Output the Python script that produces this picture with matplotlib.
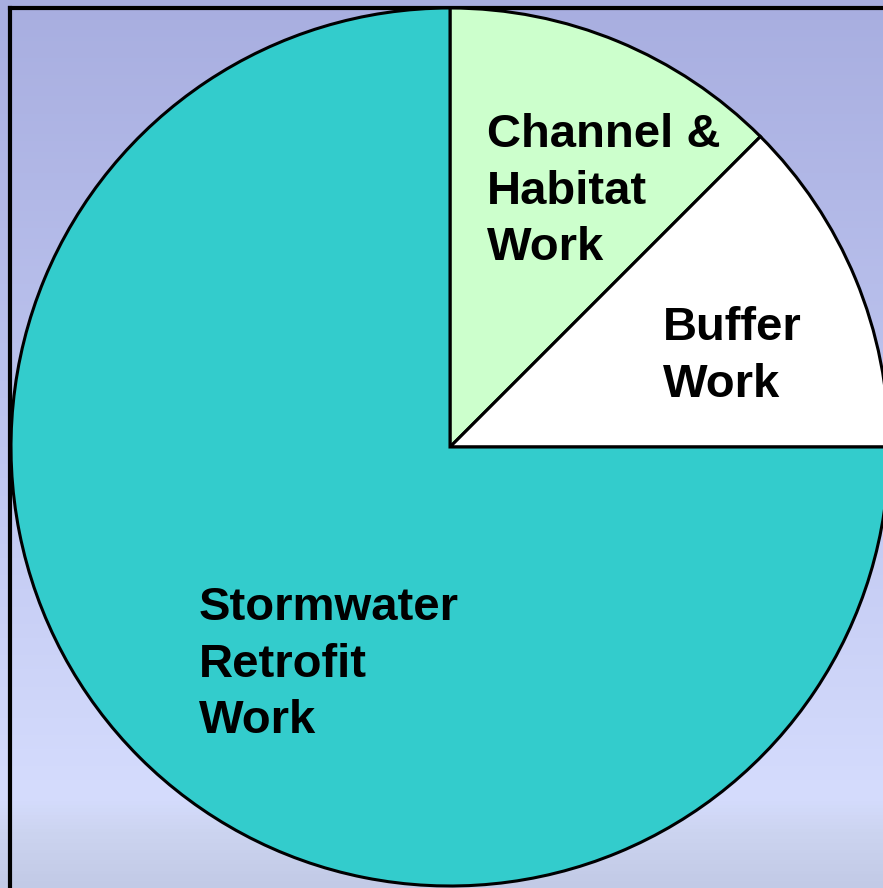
import matplotlib
matplotlib.use("Agg")
import matplotlib.pyplot as plt
import numpy as np
from matplotlib.colors import LinearSegmentedColormap

# slice data
labels = ["Channel &\nHabitat\nWork", "Buffer\nWork", "Stormwater\nRetrofit\nWork"]
shares = [12.5, 12.5, 75.0]
colors = ["#ccffcc", "#ffffff", "#33cccc"]

W, H = 883, 888
fig = plt.figure(figsize=(W / 100, H / 100), dpi=100)
ax = fig.add_axes([0, 0, 1, 1])

# background gradient (top -> bottom)
bg = LinearSegmentedColormap.from_list(
    "bg", [(0.0, "#a8aee0"), (0.45, "#bcc3ee"), (0.9, "#d5dcfd"), (0.94, "#ccd4f0"), (1.0, "#c2cae6")])
grad = np.linspace(0, 1, 256).reshape(-1, 1)
ax.imshow(grad, cmap=bg, aspect="auto", extent=[0, W, 0, H], zorder=0, origin="upper")

# frame lines (left and top)
ax.plot([10, 10], [0, H - 8], color="black", lw=3, zorder=1, solid_capstyle="projecting")
ax.plot([10, W], [H - 8, H - 8], color="black", lw=3, zorder=1, solid_capstyle="projecting")

wedges, _ = ax.pie(shares, colors=colors, startangle=90, counterclock=False,
                   center=(450, H - 447), radius=439, frame=True,
                   wedgeprops=dict(edgecolor="black", linewidth=2.2))
for w in wedges:
    w.set_zorder(2)
ax.set_xlim(0, W)
ax.set_ylim(0, H)
ax.set_aspect("auto")
ax.axis("off")

# labels
label_pos = [(487, H - 113), (663, H - 306), (199, H - 586)]
for txt, (x, y) in zip(labels, label_pos):
    ax.text(x, y, txt, ha="left", va="top", fontsize=34, fontweight="bold",
            family="Liberation Sans", linespacing=1.37, zorder=3)

fig.savefig("out.png", dpi=100)
